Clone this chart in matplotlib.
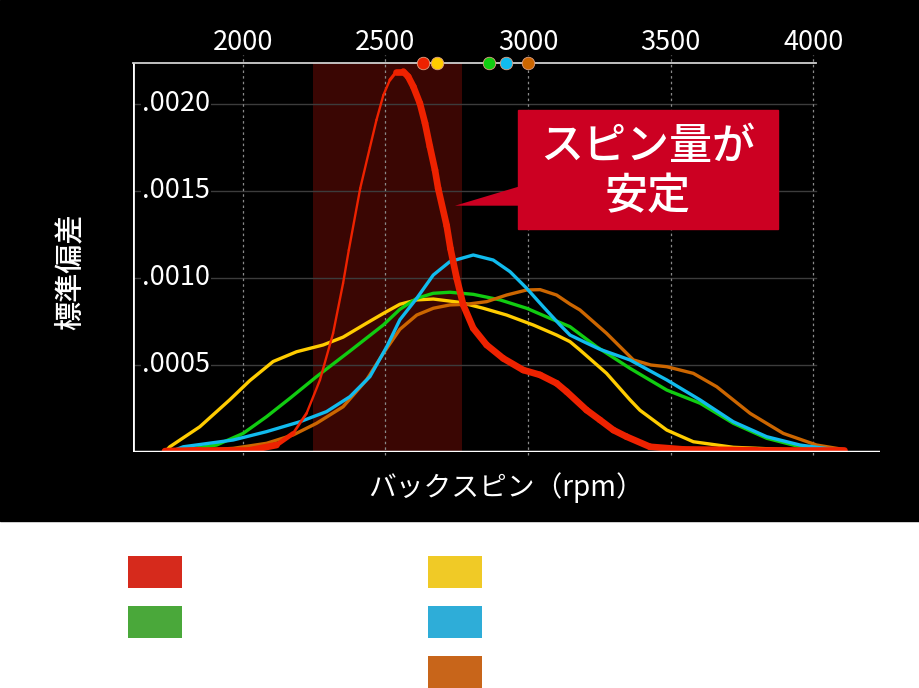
import numpy as np
import matplotlib.pyplot as plt
from matplotlib.patches import Rectangle, Polygon
from matplotlib.collections import LineCollection

plt.rcParams['font.family'] = ['Noto Sans CJK JP', 'DejaVu Sans']

SCALE = 1e-4  # densities below are in units of 1e-4

red_rpm = [1728, 1850, 2025, 2119, 2177, 2224, 2271, 2317, 2352, 2372, 2412, 2446, 2469,
           2493, 2516, 2539, 2563, 2580, 2598, 2621, 2639, 2656, 2674, 2685, 2715, 2728,
           2750, 2773, 2808, 2855, 2913, 2983, 3042, 3100, 3135, 3205, 3252, 3299, 3345,
           3427, 3543, 3800, 4108]
red_val = [0.05, 0.1, 0.1, 0.4, 1.07, 2.22, 4.14, 6.82, 9.7, 11.6, 15.15, 17.5, 19.08,
           20.5, 21.38, 21.86, 21.86, 21.57, 21.0, 20.04, 18.9, 17.55, 16.2, 15.15, 13.0, 11.7,
           9.98, 8.45, 7.11, 6.15, 5.38, 4.71, 4.43, 3.95, 3.47, 2.41, 1.84, 1.26, 0.88,
           0.3, 0.15, 0.1, 0.1]

yellow_rpm = [1728, 1745, 1850, 1955, 2025, 2107, 2189, 2282, 2352, 2434, 2497, 2551, 2610,
              2668, 2761, 2843, 2925, 3018, 3100, 3147, 3182, 3275, 3357, 3392, 3486, 3579,
              3719, 3893, 4100]
yellow_val = [0.0, 0.3, 1.45, 3.0, 4.1, 5.2, 5.76, 6.15, 6.6, 7.4, 8.0, 8.49, 8.74,
              8.79, 8.6, 8.26, 7.87, 7.3, 6.72, 6.34, 5.86, 4.52, 3.0, 2.4, 1.26, 0.59,
              0.27, 0.15, 0.05]

green_rpm = [1745, 1826, 1909, 2002, 2084, 2166, 2259, 2376, 2493, 2551, 2610, 2668, 2726,
             2808, 2902, 2995, 3077, 3147, 3240, 3357, 3486, 3603, 3719, 3836, 3953, 4068, 4100]
green_val = [0.0, 0.2, 0.4, 1.07, 2.03, 3.09, 4.33, 5.8, 7.3, 8.2, 8.83, 9.12, 9.18,
             9.06, 8.74, 8.26, 7.68, 7.2, 6.05, 4.81, 3.56, 2.8, 1.65, 0.79, 0.3, 0.15, 0.1]

blue_rpm = [1745, 1792, 1967, 2084, 2201, 2294, 2376, 2446, 2505, 2551, 2610, 2668, 2726,
            2808, 2878, 2937, 2995, 3053, 3112, 3147, 3200, 3252, 3357, 3486, 3603, 3719,
            3836, 3953, 4068, 4100]
blue_val = [0.0, 0.3, 0.69, 1.17, 1.74, 2.32, 3.18, 4.33, 6.05, 7.6, 8.83, 10.17, 10.94,
            11.32, 11.03, 10.36, 9.41, 8.35, 7.3, 6.72, 6.3, 5.9, 5.29, 4.14, 2.99, 1.74,
            0.88, 0.4, 0.15, 0.1]

orange_rpm = [1750, 1967, 2084, 2177, 2259, 2352, 2434, 2493, 2551, 2610, 2668, 2726, 2785,
              2855, 2925, 2995, 3042, 3100, 3147, 3182, 3275, 3369, 3430, 3486, 3579, 3661,
              3778, 3894, 4011, 4104]
orange_val = [0.0, 0.21, 0.5, 0.98, 1.65, 2.6, 4.14, 5.67, 7.05, 7.87, 8.26, 8.45, 8.49,
              8.64, 9.02, 9.31, 9.33, 9.02, 8.5, 8.16, 6.82, 5.29, 5.0, 4.9, 4.52, 3.75,
              2.22, 1.07, 0.4, 0.15]

# mean markers along the top edge
mean_rpm = [2633, 2681, 2864, 2923, 3000]
mean_colors = ['#ee2200', '#ffcc00', '#11cc11', '#11bbee', '#cc6600']

stable_band = (2245, 2767)
x_ticks = [2000, 2500, 3000, 3500, 4000]
y_ticks = [5, 10, 15, 20]
y_tick_labels = ['.0005', '.0010', '.0015', '.0020']

legend_colors = ['#d62a1c', '#f0ca26', '#4aa83a', '#2eadd8', '#c8651a']

W, H = 920, 688
fig = plt.figure(figsize=(W / 100, H / 100), dpi=100)
fig.patch.set_facecolor('white')


def fx(px):
    return px / W


def fy(py):
    return 1 - py / H


fig.add_artist(Rectangle((0, fy(521)), 1, 521 / H, transform=fig.transFigure,
                         color='black', zorder=0))

ax = fig.add_axes([fx(133), fy(452), fx(880) - fx(133), fy(62.7) - fy(452)])
ax.set_facecolor('black')
ax.set_xlim(1616, 4233)
ax.set_ylim(0, 22.37 * SCALE)
for s in ax.spines.values():
    s.set_visible(False)
ax.set_xticks([])
ax.set_yticks([])

# shaded "stable" range
ax.axvspan(*stable_band, color='#3a0603', zorder=1, lw=0)

# grid
for v in y_ticks:
    ax.plot([1616, 4010], [v * SCALE, v * SCALE], color='#3c3c3c', lw=1, zorder=2)
for xt in x_ticks:
    ax.axvline(xt, ymin=-0.008, ymax=1.02, color='#8a8a8a', lw=0.9, ls=(0, (2, 2.5)),
               clip_on=False, zorder=2)

# axis lines
ax.axvline(1616, color='white', lw=2, zorder=3)
ax.axhline(0, color='white', lw=2.5, zorder=7)
ax.plot([1616, 4010], [22.37 * SCALE] * 2, color='#d0d0d0', lw=1.3, clip_on=False, zorder=3)

# tick labels
for v, lab in zip(y_ticks, y_tick_labels):
    ax.text(1647, v * SCALE, lab, color='white', fontsize=19.5, ha='left', va='center',
            zorder=4, bbox=dict(facecolor='black', edgecolor='none', pad=0.5))
for xt in x_ticks:
    ax.text(xt, 1.052, str(xt), color='white', fontsize=19.5, ha='center', va='center',
            transform=ax.get_xaxis_transform())

# density curves
series = [(yellow_rpm, yellow_val, '#ffcc00'),
          (green_rpm, green_val, '#11cc11'),
          (orange_rpm, orange_val, '#cc6600'),
          (blue_rpm, blue_val, '#11bbee')]
for i, (xs, ys, c) in enumerate(series):
    ax.plot(xs, np.array(ys) * SCALE, color=c, lw=2.4, zorder=5 + i * 0.1,
            solid_capstyle='round', solid_joinstyle='round')

# red curve drawn like a pen stroke: thin when rising, thick otherwise
pts = np.column_stack([red_rpm, np.array(red_val) * SCALE])
disp = ax.transData.transform(pts)
d = np.diff(disp, axis=0)
ang = np.degrees(np.arctan2(d[:, 1], d[:, 0]))
w = 1.7 + (4.8 - 1.7) * np.clip((60 - ang) / 45, 0, 1)
segs = np.stack([pts[:-1], pts[1:]], axis=1)
lc = LineCollection(segs, colors='#ee2200', linewidths=w, zorder=6, capstyle='round',
                    joinstyle='round')
ax.add_collection(lc)

# mean markers
for m, c in zip(mean_rpm, mean_colors):
    ax.plot([m], [22.37 * SCALE], 'o', ms=9, mfc=c, mec='#e0a080', mew=0.6,
            clip_on=False, zorder=8)

fig.text(fx(506), fy(488), 'バックスピン（rpm）', color='white', fontsize=20,
         ha='center', va='center')
fig.text(fx(70), fy(272), '標準偏差', color='white', fontsize=21, fontweight='medium',
         rotation=90, ha='center', va='center')

# callout
fig.add_artist(Rectangle((fx(517.7), fy(229)), fx(777.7) - fx(517.7), fy(110) - fy(229),
                         transform=fig.transFigure, color='#cc0022', zorder=10))
fig.add_artist(Polygon([(fx(455), fy(205.7)), (fx(518.5), fy(186.7)), (fx(518.5), fy(205.7))],
                       closed=True, transform=fig.transFigure, color='#cc0022', lw=0,
                       zorder=10))
fig.text(fx(647.7), fy(147), 'スピン量が', color='white', fontsize=31, fontweight='medium',
         ha='center', va='center', zorder=11)
fig.text(fx(647.7), fy(197), '安定', color='white', fontsize=31, fontweight='medium',
         ha='center', va='center', zorder=11)

# legend swatches (labels are blank in the source)
swatch_pos = [(128, 556), (428, 556), (128, 606), (428, 606), (428, 656)]
for (px, py), c in zip(swatch_pos, legend_colors):
    fig.add_artist(Rectangle((fx(px), fy(py + 32)), 54 / W, 32 / H,
                             transform=fig.transFigure, color=c, lw=0))

fig.savefig('out.png', dpi=100, facecolor=fig.get_facecolor())
